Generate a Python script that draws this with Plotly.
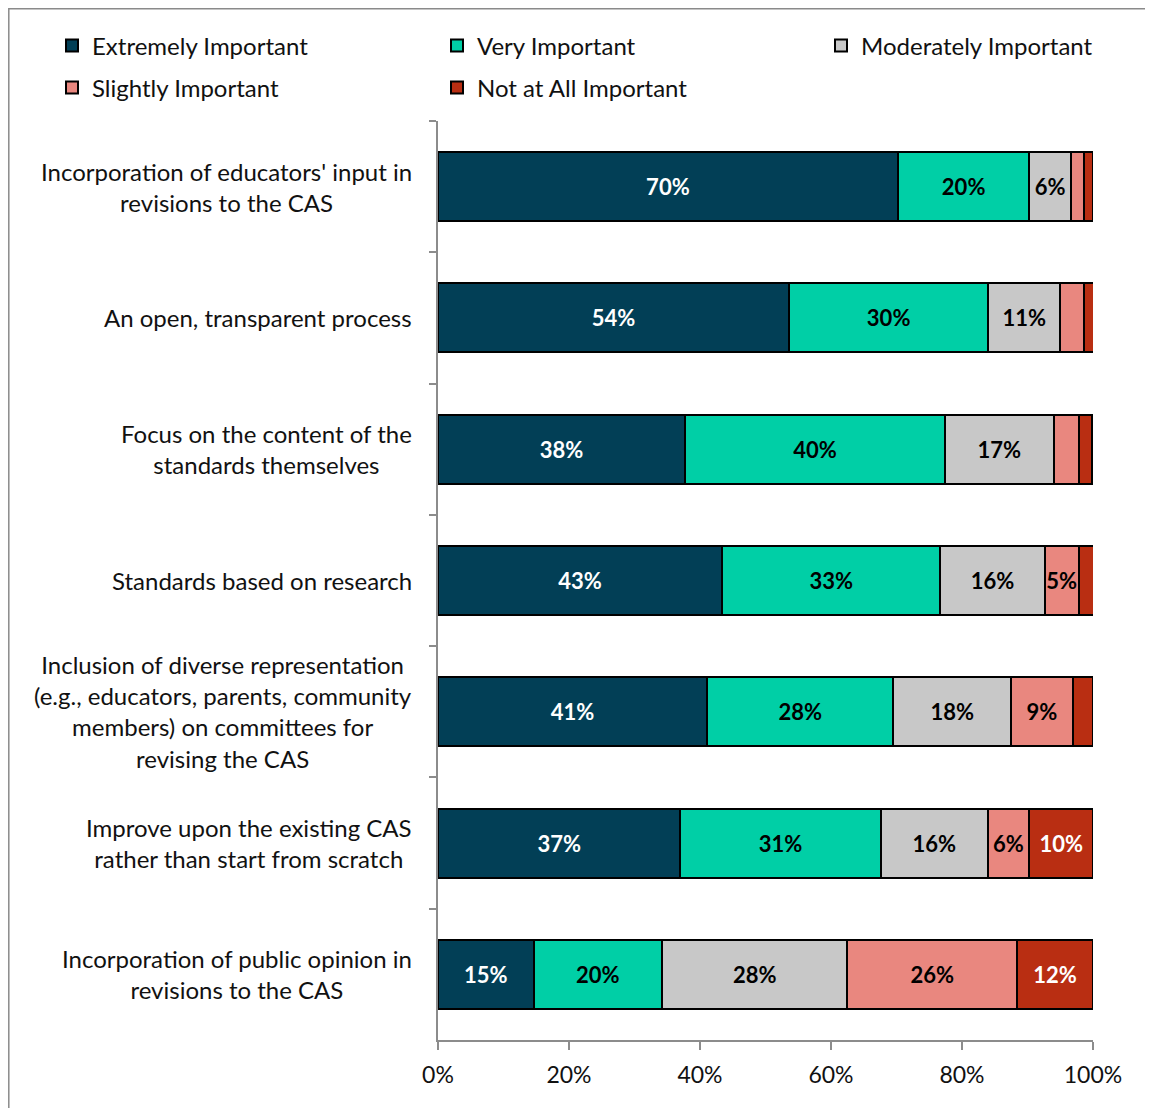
import plotly.graph_objects as go

categories = [
    "Incorporation of educators' input in<br>revisions to the CAS",
    "An open, transparent process",
    "Focus on the content of the<br>standards themselves",
    "Standards based on research",
    "Inclusion of diverse representation<br>(e.g., educators, parents, community<br>members) on committees for<br>revising the CAS",
    "Improve upon the existing CAS<br>rather than start from scratch",
    "Incorporation of public opinion in<br>revisions to the CAS",
]
series_names = ["Extremely Important", "Very Important", "Moderately Important",
                "Slightly Important", "Not at All Important"]
extremely = [70.2, 53.6, 37.7, 43.4, 41.1, 37.0, 14.6]
very = [20.1, 30.4, 39.7, 33.3, 28.4, 30.6, 19.6]
moderately = [6.3, 11.0, 16.6, 15.9, 18.0, 16.3, 28.3]
slightly = [2.0, 3.7, 3.8, 5.2, 9.4, 6.4, 25.9]
not_at_all = [1.4, 1.4, 2.1, 2.3, 3.1, 9.7, 11.6]
x_ticks = [0, 20, 40, 60, 80, 100]
x_tick_labels = ["0%", "20%", "40%", "60%", "80%", "100%"]

colors = ["#023F56", "#00CFA6", "#C8C8C8", "#E9877F", "#B92E12"]
text_colors = ["white", "black", "black", "black", "white"]

# page body has an 8px margin; work in figure pixels
W, H = 1145, 1100
L, R, T, B = 430, 1085, 113, 1032


def px(x):
    return (x - L) / (R - L)


def py(y):
    return (B - y) / (B - T)


FONT = "Lato, 'Open Sans', sans-serif"
FS = 24

fig = go.Figure()
all_series = [extremely, very, moderately, slightly, not_at_all]
legend_ids = ["legend", "legend2", "legend3", "legend4", "legend5"]
for i, (name, vals) in enumerate(zip(series_names, all_series)):
    labels = [f"{round(v)}%" if v >= 4.5 else "" for v in vals]
    fig.add_trace(go.Bar(
        y=categories, x=vals, name=name, orientation="h",
        marker=dict(color=colors[i], line=dict(color="black", width=2)),
        width=0.525,
        text=labels, textposition="inside", insidetextanchor="middle",
        textangle=0,
        textfont=dict(family=FONT, size=22, color=text_colors[i], weight="bold"),
        legend=legend_ids[i],
        hoverinfo="skip",
    ))

legend_pos = [(44, 38), (429, 38), (813, 38), (44, 80), (429, 80)]
legend_layout = {}
for lid, (lx, ly) in zip(legend_ids, legend_pos):
    legend_layout[lid] = dict(
        x=px(lx), y=py(ly), xanchor="left", yanchor="middle",
        orientation="h", bgcolor="rgba(0,0,0,0)",
        font=dict(family=FONT, size=FS, color="#111"),
    )

annotations = []
for c in categories:
    annotations.append(dict(
        x=0, xref="paper", y=c, yref="y", xanchor="right", yanchor="middle",
        xshift=-24, text=c, showarrow=False, align="center",
        font=dict(family=FONT, size=FS, color="#111"),
    ))

fig.update_layout(
    width=W, height=H,
    margin=dict(l=L, r=W - R, t=T, b=H - B, pad=0),
    barmode="stack",
    plot_bgcolor="white", paper_bgcolor="white",
    showlegend=True,
    uniformtext=dict(minsize=22, mode="show"),
    annotations=annotations,
    shapes=[dict(type="rect", xref="paper", yref="paper",
                 x0=px(0.8), x1=px(1200), y0=py(1200), y1=py(0.8),
                 line=dict(color="#8A8A8A", width=1.5), layer="below")],
    **legend_layout,
)
fig.update_xaxes(
    range=[0, 100], tickvals=x_ticks, ticktext=x_tick_labels,
    showgrid=False, zeroline=False, showline=True, linecolor="#8C8C8C", linewidth=1.5,
    ticks="outside", ticklen=8, tickcolor="#8C8C8C", tickwidth=1.5,
    ticklabelstandoff=6,
    tickfont=dict(family=FONT, size=23, color="#111"),
)
fig.update_yaxes(
    autorange="reversed", showticklabels=False, showgrid=False,
    showline=True, linecolor="#8C8C8C", linewidth=1.5,
    ticks="outside", ticklen=7, tickcolor="#8C8C8C", tickwidth=1.5,
    tickson="boundaries",
)

fig.write_html("out.html")
